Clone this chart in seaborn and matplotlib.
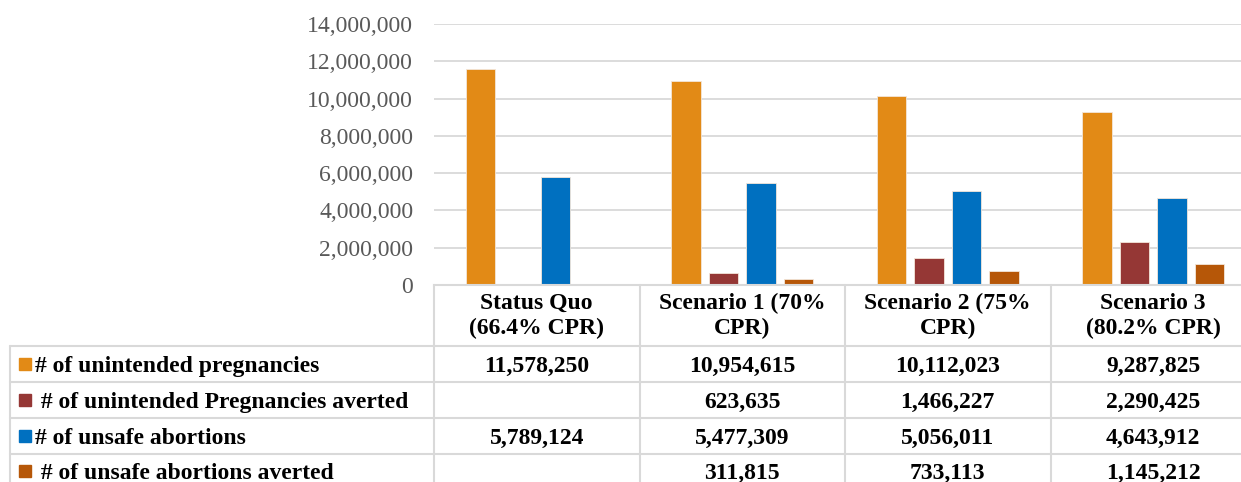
import matplotlib
matplotlib.use("Agg")
import matplotlib.pyplot as plt
import matplotlib.transforms as mtransforms
import seaborn as sns
import pandas as pd
import numpy as np

scenarios = ["Status Quo\n(66.4% CPR)", "Scenario 1 (70%\nCPR)", "Scenario 2 (75%\nCPR)", "Scenario 3\n(80.2% CPR)"]
series = ["# of unintended pregnancies", " # of unintended Pregnancies averted",
          "# of unsafe abortions", " # of unsafe abortions averted"]
unintended = [11578250, 10954615, 10112023, 9287825]
unintended_averted = [np.nan, 623635, 1466227, 2290425]
unsafe = [5789124, 5477309, 5056011, 4643912]
unsafe_averted = [np.nan, 311815, 733113, 1145212]
colors = ["#E28A16", "#953735", "#0070C0", "#B65708"]
yticks = [0, 2000000, 4000000, 6000000, 8000000, 10000000, 12000000, 14000000]

values = [unintended, unintended_averted, unsafe, unsafe_averted]

# Long table for seaborn
rows = []
for s, vals in zip(series, values):
    for sc, v in zip(scenarios, vals):
        rows.append({"scenario": sc, "series": s, "value": v})
df = pd.DataFrame(rows)
plot_df = df.dropna(subset=["value"])

sns.set_theme(style="white")
plt.rcParams["font.family"] = ["Liberation Serif", "DejaVu Serif"]

W, H = 1241, 482
FS = 17
fig = plt.figure(figsize=(W / 100, H / 100), dpi=100)
ax = fig.add_axes([434 / W, 1 - 285 / H, (1256 - 434) / W, 261 / H])

sns.barplot(data=plot_df, x="scenario", y="value", hue="series", order=scenarios,
            hue_order=series, palette=colors, saturation=1, width=0.73, gap=0.21,
            errorbar=None, legend=False, edgecolor="#f3e6da", linewidth=0.6, ax=ax)

ax.set_xlim(-0.5, 3.5)
ax.set_ylim(0, 14000000)
ax.set_yticks(yticks)
ax.set_yticklabels([f"{t:,}" for t in yticks], fontsize=FS, color="#595959")
ax.tick_params(axis="y", length=0, pad=15)
ax.set_xticks([])
ax.set_xlabel("")
ax.set_ylabel("")
ax.yaxis.grid(True, color="#d9d9d9", linewidth=1.3)
ax.set_axisbelow(True)
for side in ["left", "right", "top"]:
    ax.spines[side].set_visible(False)
ax.spines["bottom"].set_color("#d9d9d9")
ax.spines["bottom"].set_linewidth(1.5)

# Data table below the plot (x in data units, y in figure pixels)
line_col = "#d9d9d9"
blend = mtransforms.blended_transform_factory(ax.transData, fig.transFigure)


def fy(px):
    return 1 - px / H


# vertical lines between categories
for xb in [-0.5, 0.5, 1.5, 2.5, 3.5]:
    ax.plot([xb, xb], [fy(285), fy(H)], transform=blend, color=line_col, lw=1.5, clip_on=False)
# left border of the row-label column
fig.add_artist(plt.Line2D([10 / W, 10 / W], [fy(346), fy(H)], color=line_col, lw=1.5))
# horizontal row lines
for yp in [346, 382, 418, 454]:
    fig.add_artist(plt.Line2D([10 / W, 1.0], [fy(yp), fy(yp)], color=line_col, lw=1.5))

# header
for i, sc in enumerate(scenarios):
    ax.text(i, fy(316), sc, transform=blend, ha="center", va="center", fontsize=FS,
            fontweight="bold", color="black", linespacing=1.2)

# rows
row_y = [364, 400, 436, 471]
for s, vals, c, yp in zip(series, values, colors, row_y):
    fig.add_artist(plt.Line2D([25 / W], [fy(yp)], marker="s", markersize=9, color=c, linestyle="none"))
    fig.text(35 / W, fy(yp), s, ha="left", va="center_baseline", fontsize=FS,
             fontweight="bold", color="black")
    for i, v in enumerate(vals):
        if not np.isnan(v):
            ax.text(i, fy(yp), f"{int(v):,}", transform=blend, ha="center", va="center_baseline",
                    fontsize=FS, fontweight="bold", color="black")

fig.savefig("out.png", dpi=100)
